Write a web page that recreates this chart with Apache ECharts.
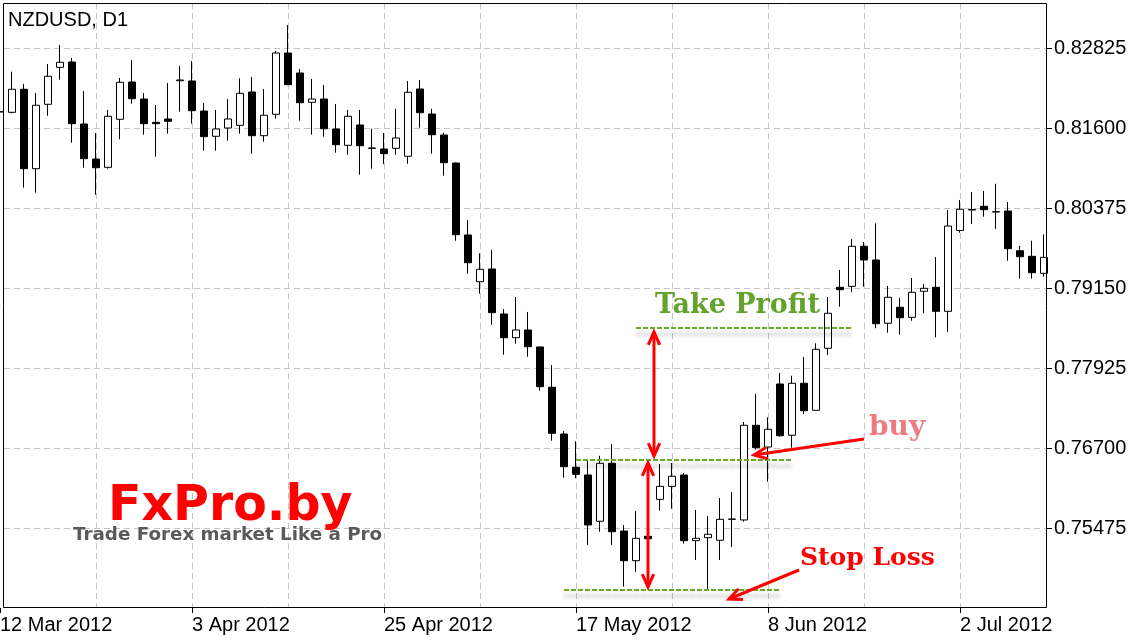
<!DOCTYPE html>
<html><head><meta charset="utf-8">
<script src="https://cdn.jsdelivr.net/npm/echarts@6/dist/echarts.min.js"></script>
<style>html,body{margin:0;padding:0;background:#fff}#c{width:1136px;height:640px}</style>
</head><body><div id="c"></div>
<script>
const chartTitle = 'NZDUSD, D1';
const firstDay = [2012, 2, 12];
const opens = [0.81845,0.81840,0.82193,0.80977,0.81963,0.82529,0.82611,0.81661,0.81125,0.80998,
0.81733,0.82304,0.82044,0.81687,0.81738,0.82324,0.82320,0.81860,0.81473,0.81600,
0.81641,0.82151,0.81482,0.81810,0.82748,0.82442,0.81994,0.82044,0.81585,0.81335,
0.81646,0.81294,0.81278,0.81289,0.81167,0.82197,0.81814,0.81493,0.81064,0.79962,
0.79246,0.79441,0.78752,0.78389,0.78507,0.78247,0.77630,0.76914,0.76405,0.76287,
0.75578,0.76466,0.75429,0.74974,0.75348,0.75914,0.76113,0.76287,0.75281,0.75327,
0.75287,0.75608,0.75598,0.77048,0.76715,0.77680,0.76895,0.77691,0.77277,0.78227,
0.79161,0.79176,0.79789,0.79579,0.78610,0.78855,0.78701,0.79100,0.79161,0.78793,
0.80031,0.80352,0.80401,0.80318,0.80329,0.79721,0.79635,0.79375];
const closes = [0.81850,0.82193,0.80977,0.81948,0.82392,0.82606,0.81666,0.81130,0.80992,0.81779,
0.82300,0.82049,0.81666,0.81666,0.81703,0.82335,0.81865,0.81467,0.81585,0.81738,
0.82131,0.81482,0.81795,0.82748,0.82263,0.81987,0.82044,0.81589,0.81344,0.81779,
0.81329,0.81289,0.81207,0.81447,0.82147,0.81834,0.81497,0.81069,0.79966,0.79537,
0.79436,0.78772,0.78389,0.78507,0.78251,0.77639,0.76925,0.76414,0.76297,0.75521,
0.76466,0.75418,0.74974,0.75317,0.75311,0.76113,0.76267,0.75281,0.75317,0.75379,
0.75608,0.75613,0.77048,0.76705,0.76986,0.76888,0.77691,0.77271,0.78211,0.78763,
0.79124,0.79789,0.79579,0.78603,0.79008,0.78695,0.79084,0.79145,0.78793,0.80099,
0.80355,0.80344,0.80349,0.80314,0.79752,0.79629,0.79384,0.79620];
const lows = [0.81753,0.81825,0.80686,0.80609,0.81788,0.82340,0.81375,0.80992,0.80579,0.80977,
0.81427,0.81972,0.81497,0.81161,0.81513,0.81850,0.81666,0.81252,0.81252,0.81406,
0.81513,0.81207,0.81390,0.81742,0.82258,0.81712,0.81497,0.81467,0.81222,0.81191,
0.80885,0.80977,0.81049,0.81191,0.81053,0.81605,0.81207,0.80870,0.79874,0.79369,
0.79063,0.78588,0.78129,0.78297,0.78098,0.77577,0.76812,0.76245,0.76236,0.75215,
0.75418,0.75215,0.74576,0.74806,0.75062,0.75740,0.75771,0.75235,0.74985,0.74536,
0.74985,0.75184,0.75572,0.76674,0.76184,0.76873,0.76705,0.77221,0.77270,0.78124,
0.78864,0.79084,0.79170,0.78533,0.78466,0.78435,0.78649,0.78763,0.78395,0.78481,
0.79997,0.80130,0.80242,0.80053,0.79568,0.79292,0.79292,0.79323];
const highs = [0.81937,0.82462,0.82274,0.82136,0.82580,0.82871,0.82672,0.82167,0.81523,0.81876,
0.82366,0.82641,0.82136,0.81952,0.82289,0.82549,0.82626,0.81983,0.81876,0.82044,
0.82361,0.82381,0.82197,0.82779,0.83177,0.82503,0.82350,0.82258,0.81968,0.81876,
0.81876,0.81589,0.81523,0.81896,0.82320,0.82335,0.81896,0.81528,0.81070,0.80191,
0.79681,0.79732,0.78828,0.79012,0.78783,0.78250,0.77971,0.76960,0.76803,0.76506,
0.76582,0.76761,0.75521,0.75735,0.75598,0.76455,0.76470,0.76317,0.75751,0.75659,
0.75934,0.76026,0.77098,0.77527,0.77170,0.77848,0.77807,0.78093,0.78303,0.79012,
0.79426,0.79900,0.79854,0.80141,0.79181,0.78997,0.79303,0.79211,0.79625,0.80344,
0.80498,0.80620,0.80635,0.80747,0.80467,0.79793,0.79874,0.79972];
const priceTicks = [0.75475,0.76700,0.77925,0.79150,0.80375,0.81600,0.82825];
const labelEvery = 16;
const gridEvery = 8;
const levelNames = ['Take Profit','buy','Stop Loss'];
const levelPrices = [0.78537, 0.76516, 0.74526];
const levelSpans = [[53,71],[48,66],[47,65]];
const brandName = 'FxPro.by';
const brandTagline = 'Trade Forex market Like a Pro';

const months = ['Jan','Feb','Mar','Apr','May','Jun','Jul','Aug','Sep','Oct','Nov','Dec'];
const categories = [];
{
  const d = new Date(Date.UTC(firstDay[0], firstDay[1], firstDay[2]));
  while (categories.length < opens.length) {
    const wd = d.getUTCDay();
    if (wd > 0 && wd < 6) categories.push(d.getUTCDate() + ' ' + months[d.getUTCMonth()] + ' ' + d.getUTCFullYear());
    d.setUTCDate(d.getUTCDate() + 1);
  }
}
const ohlc = opens.map((o, i) => [o, closes[i], lows[i], highs[i]]);

const FONT = '"Liberation Sans", Arial, sans-serif';
const green = '#68ab2b';
const chart = echarts.init(document.getElementById('c'), null, {renderer: 'canvas'});
const option = {
  animation: false,
  backgroundColor: '#ffffff',
  grid: {left: -6, top: 3, width: 1056, height: 605, containLabel: false, outerBoundsMode: 'none'},
  xAxis: {
    type: 'category', data: categories, boundaryGap: true,
    axisLine: {show: false},
    axisTick: {show: true, alignWithLabel: true, length: 5, interval: (i) => i % labelEvery === 0, lineStyle: {color: '#000', width: 1}},
    axisLabel: {show: true, interval: (i) => i % labelEvery === 0, align: 'left', margin: 7, color: '#000', fontSize: 20, fontFamily: FONT},
    splitLine: {show: true, alignWithLabel: true, interval: (i) => i > 0 && i % gridEvery === 0, lineStyle: {color: '#c4c4c4', type: [6, 4], width: 1}}
  },
  yAxis: {
    type: 'value', position: 'right', offset: -3, min: 0.7425, max: 0.83514, interval: 0.01225, scale: true,
    axisLine: {show: false},
    axisTick: {show: true, length: 5, customValues: priceTicks, lineStyle: {color: '#000'}},
    axisLabel: {show: true, customValues: priceTicks, margin: 7, color: '#000', fontSize: 20, fontFamily: FONT, formatter: v => Number(v).toFixed(5)},
    splitLine: {show: true, lineStyle: {color: '#c4c4c4', type: [6, 4], width: 1}}
  },
  series: [{
    type: 'candlestick', data: ohlc, barWidth: 8,
    itemStyle: {color: '#ffffff', color0: '#000000', borderColor: '#000000', borderColor0: '#000000', borderWidth: 1},
    markLine: {
      silent: true, symbol: ['none', 'none'], label: {show: false}, animation: false,
      lineStyle: {color: green, width: 2, type: [5, 2], shadowColor: 'rgba(0,0,0,0.35)', shadowBlur: 4, shadowOffsetY: 6},
      data: levelPrices.map((p, i) => [{coord: [levelSpans[i][0], p]}, {coord: [levelSpans[i][1], p]}])
    }
  }]
};
chart.setOption(option);

const py = p => chart.convertToPixel({gridIndex: 0}, [0, p])[1];
const yTP = py(levelPrices[0]), yEn = py(levelPrices[1]), ySL = py(levelPrices[2]);
function head(tx, ty, fx, fy) {
  const a = Math.atan2(fy - ty, fx - tx), L = 14, g = 0.42;
  return [[tx + L * Math.cos(a + g), ty + L * Math.sin(a + g)], [tx, ty], [tx + L * Math.cos(a - g), ty + L * Math.sin(a - g)]];
}
function arrow(x1, y1, x2, y2, both) {
  const st = {stroke: '#ff0000', lineWidth: 3, fill: null, lineJoin: 'miter'};
  const els = [
    {type: 'line', shape: {x1, y1, x2, y2}, style: st, z: 60},
    {type: 'polyline', shape: {points: head(x2, y2, x1, y1)}, style: st, z: 60}
  ];
  if (both) els.push({type: 'polyline', shape: {points: head(x1, y1, x2, y2)}, style: st, z: 60});
  return els;
}
const txt = (text, x, y, font, fill) => ({type: 'text', z: 70, style: {text, x, y, font, fill, align: 'left', verticalAlign: 'middle'}});
const serifB = s => 'bold ' + s + 'px "DejaVu Serif", serif';
chart.setOption({
  graphic: [
    {type: 'rect', z: 80, shape: {x: 3.5, y: 3.5, width: 1043, height: 604}, style: {stroke: '#000', fill: null, lineWidth: 1}},
    txt(chartTitle, 8, 20, '20px ' + FONT, '#000'),
    txt(levelNames[0], 655, 306, serifB(27), '#63a22b'),
    txt(levelNames[1], 869, 428, serifB(28), '#ee7b80'),
    txt(levelNames[2], 800, 558, serifB(25), '#ff0000'),
    txt(brandName, 108, 507, 'bold 49px "DejaVu Sans", sans-serif', '#ff0000'),
    txt(brandTagline, 73, 535, 'bold 18.3px "DejaVu Sans", sans-serif', '#5a5a5a'),
    ...arrow(654, yTP + 4, 654, yEn - 4, true),
    ...arrow(648, yEn + 3, 648, ySL - 3, true),
    ...arrow(864, 439, 754, 455, false),
    ...arrow(799, 570, 729, 599, false)
  ]
});
</script></body></html>
